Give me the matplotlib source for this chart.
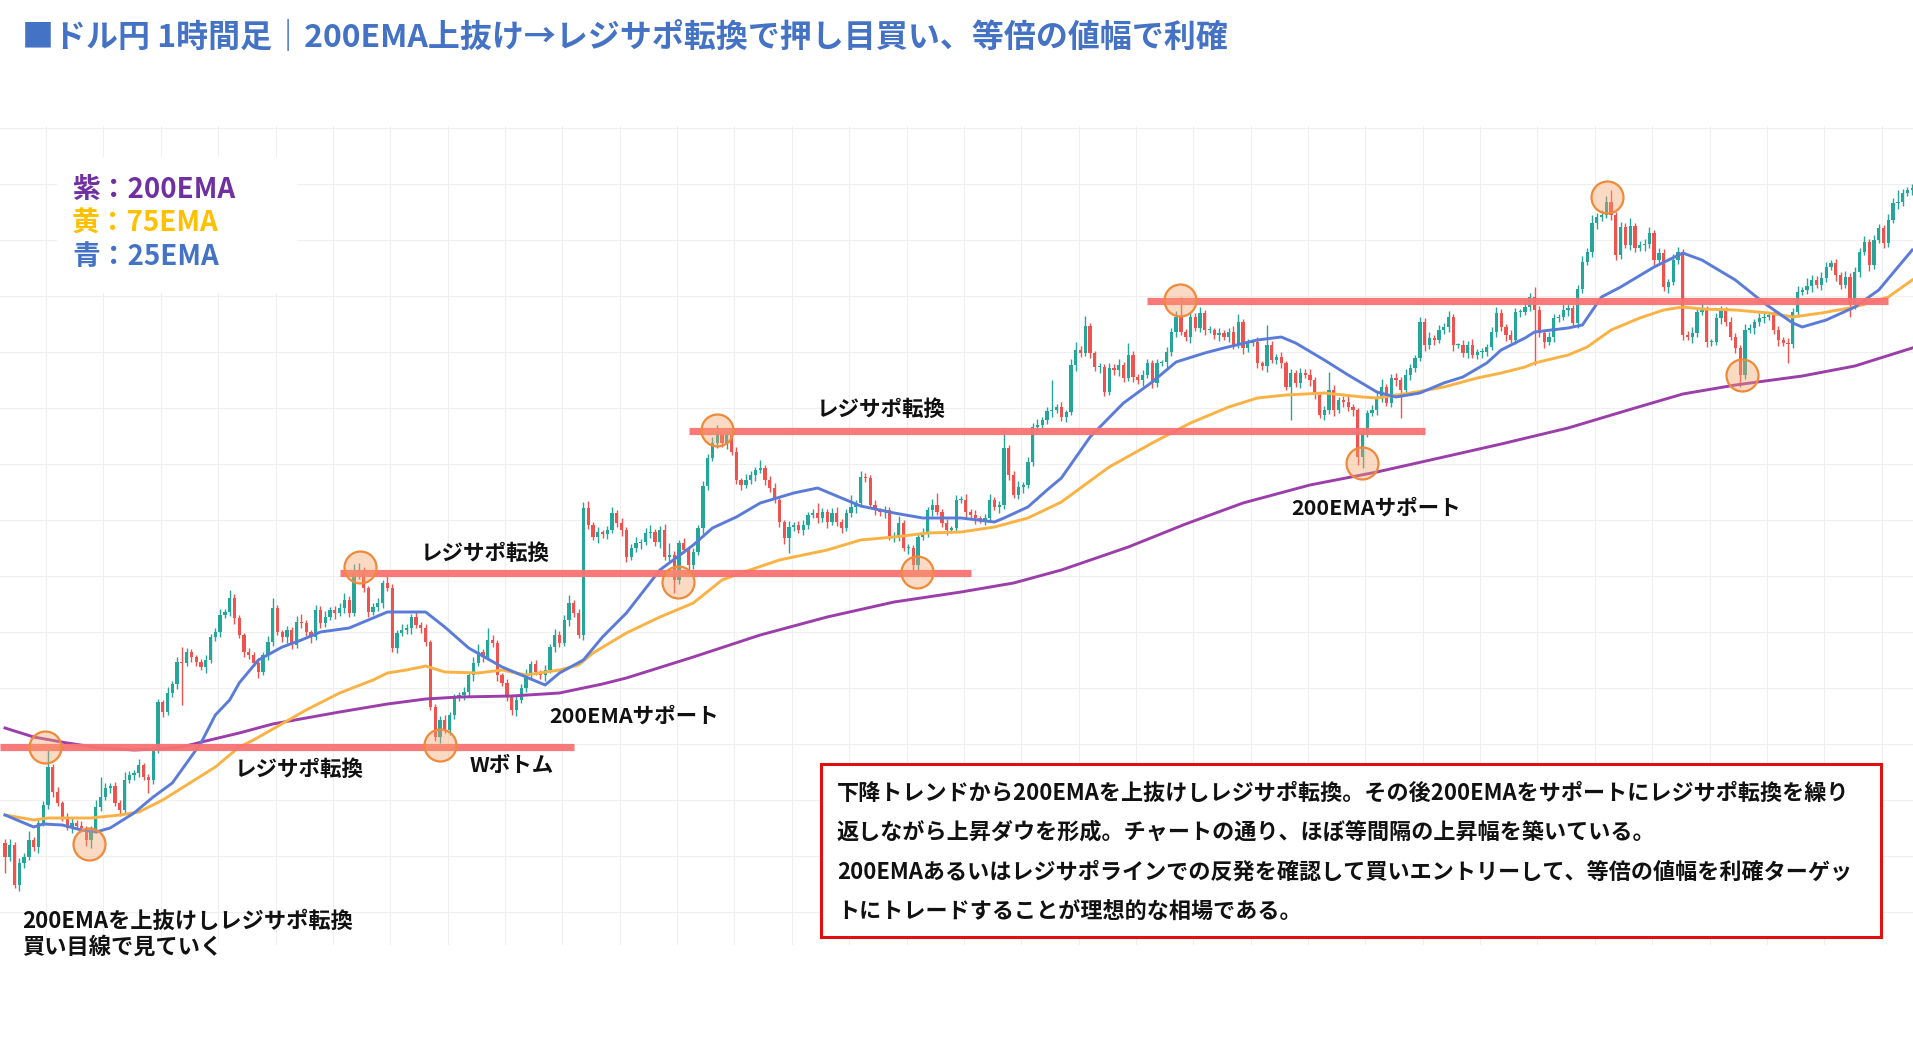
import numpy as np
import matplotlib
matplotlib.use('Agg')
import matplotlib.pyplot as plt
from matplotlib.patches import Rectangle

plt.rcParams['font.family'] = ['Noto Sans CJK JP', 'DejaVu Sans']

W, H = 1913, 1054

# ドル円 1時間足（価格は任意単位、400本）
first_open = 157
close = [
    143, 155, 115, 137, 143, 160, 153, 177, 195, 233,
    208, 197, 183, 172, 177, 174, 172, 160, 170, 193,
    203, 212, 214, 197, 190, 220, 225, 227, 235, 223,
    220, 250, 298, 288, 307, 316, 338, 337, 348, 343,
    338, 333, 340, 363, 368, 385, 388, 402, 382, 365,
    348, 345, 337, 328, 345, 358, 392, 368, 363, 370,
    355, 378, 377, 368, 363, 390, 377, 383, 390, 387,
    392, 400, 387, 427, 430, 412, 388, 393, 397, 417,
    412, 352, 367, 370, 372, 383, 375, 372, 358, 293,
    263, 280, 270, 285, 302, 305, 308, 325, 337, 348,
    343, 360, 357, 325, 317, 303, 290, 300, 312, 325,
    336, 328, 325, 330, 353, 365, 357, 380, 397, 387,
    365, 492, 475, 463, 468, 466, 470, 487, 477, 470,
    443, 452, 457, 458, 467, 468, 458, 470, 443, 445,
    420, 457, 450, 435, 448, 472, 514, 542, 557, 568,
    557, 565, 548, 520, 515, 520, 525, 530, 532, 520,
    512, 500, 478, 462, 473, 475, 470, 475, 485, 487,
    482, 488, 478, 487, 478, 472, 487, 493, 497, 523,
    522, 495, 490, 488, 490, 463, 463, 477, 452, 452,
    435, 463, 467, 490, 495, 488, 477, 470, 472, 500,
    500, 488, 485, 482, 480, 482, 500, 493, 495, 552,
    525, 505, 513, 515, 538, 573, 575, 580, 589, 590,
    593, 583, 588, 635, 650, 647, 674, 647, 633, 633,
    608, 632, 630, 635, 622, 645, 623, 620, 625, 637,
    617, 637, 638, 648, 668, 683, 668, 663, 683, 672,
    687, 670, 670, 665, 667, 663, 668, 655, 678, 652,
    657, 658, 637, 634, 655, 640, 643, 637, 613, 627,
    617, 627, 625, 620, 605, 585, 590, 610, 590, 600,
    598, 593, 590, 543, 567, 587, 590, 602, 613, 597,
    622, 620, 610, 625, 632, 642, 678, 655, 662, 660,
    670, 673, 683, 655, 655, 647, 655, 645, 648, 648,
    653, 668, 687, 673, 665, 660, 688, 688, 693, 703,
    690, 667, 658, 663, 682, 683, 690, 692, 677, 711,
    738, 748, 777, 783, 785, 798, 785, 745, 773, 755,
    774, 752, 755, 756, 767, 740, 747, 713, 718, 740,
    748, 665, 663, 667, 688, 690, 658, 658, 682, 690,
    678, 663, 652, 625, 670, 672, 678, 682, 683, 685,
    670, 660, 657, 656, 688, 708, 710, 714, 720, 715,
    722, 733, 737, 725, 715, 723, 695, 728, 748, 758,
    735, 760, 772, 757, 780, 797, 798, 807, 810, 812,
]

# ヒゲの長さ（実体から上・下）
upper_wick = [
    4, 6, 3, 5, 4, 9, 3, 5, 4, 20,
    3, 5, 2, 4, 6, 3, 5, 2, 4, 7,
    20, 5, 3, 4, 3, 8, 4, 3, 6, 2,
    3, 4, 3, 2, 6, 3, 5, 15, 4, 3,
    2, 3, 5, 3, 4, 6, 3, 8, 4, 3,
    2, 4, 3, 5, 3, 6, 10, 3, 2, 4,
    3, 6, 8, 3, 2, 5, 4, 6, 3, 4,
    5, 7, 4, 9, 7, 3, 2, 4, 5, 3,
    8, 4, 3, 6, 4, 3, 5, 3, 4, 2,
    3, 4, 5, 3, 4, 3, 5, 3, 6, 8,
    3, 12, 5, 3, 2, 4, 3, 5, 4, 6,
    3, 4, 2, 5, 3, 6, 4, 5, 8, 3,
    4, 6, 7, 3, 5, 2, 4, 6, 3, 5,
    3, 4, 6, 3, 5, 7, 3, 4, 6, 12,
    4, 3, 5, 2, 4, 3, 5, 4, 6, 7,
    3, 4, 3, 5, 2, 6, 4, 3, 8, 3,
    4, 5, 3, 2, 6, 3, 4, 5, 3, 4,
    10, 4, 3, 5, 6, 3, 4, 12, 3, 6,
    4, 3, 5, 2, 4, 3, 5, 7, 3, 4,
    3, 4, 5, 3, 6, 12, 3, 4, 2, 5,
    4, 6, 3, 5, 2, 4, 6, 3, 4, 18,
    3, 4, 6, 3, 5, 4, 6, 3, 4, 30,
    3, 5, 2, 6, 8, 4, 10, 3, 2, 4,
    3, 5, 4, 6, 3, 12, 4, 3, 5, 4,
    3, 4, 2, 5, 4, 6, 20, 3, 5, 4,
    6, 3, 4, 2, 5, 3, 4, 6, 8, 3,
    4, 3, 5, 2, 20, 4, 3, 5, 2, 4,
    3, 5, 4, 6, 3, 2, 4, 18, 5, 3,
    4, 6, 3, 2, 4, 3, 5, 6, 8, 3,
    4, 5, 3, 6, 4, 3, 5, 4, 6, 3,
    5, 4, 6, 3, 2, 5, 4, 6, 3, 4,
    3, 5, 6, 4, 3, 5, 4, 3, 6, 4,
    10, 4, 3, 5, 4, 3, 6, 5, 3, 4,
    6, 4, 8, 4, 5, 6, 12, 3, 5, 4,
    8, 3, 4, 5, 6, 3, 5, 4, 3, 6,
    5, 3, 4, 6, 3, 8, 4, 3, 5, 4,
    3, 5, 4, 3, 6, 4, 3, 5, 4, 3,
    6, 4, 3, 5, 4, 6, 3, 8, 5, 4,
    6, 5, 3, 4, 3, 6, 4, 5, 4, 6,
    3, 5, 4, 3, 6, 5, 12, 4, 3, 4,
]
lower_wick = [
    16, 4, 3, 6, 5, 3, 4, 6, 3, 4,
    5, 3, 4, 2, 5, 3, 4, 6, 8, 3,
    4, 3, 5, 3, 6, 4, 3, 5, 4, 3,
    13, 4, 3, 5, 3, 4, 5, 42, 3, 5,
    4, 3, 6, 3, 4, 5, 3, 4, 6, 3,
    5, 4, 3, 6, 3, 5, 4, 3, 5, 6,
    4, 3, 5, 4, 6, 3, 5, 4, 3, 6,
    3, 5, 4, 3, 6, 4, 5, 3, 4, 5,
    3, 4, 5, 3, 4, 6, 3, 5, 4, 3,
    4, 6, 3, 5, 4, 3, 5, 4, 6, 3,
    5, 3, 4, 6, 3, 4, 5, 6, 3, 4,
    5, 3, 4, 6, 3, 5, 4, 3, 6, 4,
    3, 5, 4, 3, 6, 4, 5, 3, 4, 6,
    5, 3, 4, 6, 3, 5, 4, 6, 3, 4,
    13, 4, 3, 5, 4, 3, 6, 4, 3, 5,
    4, 6, 3, 4, 5, 3, 4, 6, 3, 5,
    4, 3, 5, 6, 15, 4, 3, 5, 4, 3,
    5, 4, 6, 3, 4, 5, 3, 4, 6, 3,
    4, 3, 5, 4, 6, 3, 5, 4, 3, 6,
    7, 5, 3, 4, 6, 3, 4, 5, 3, 4,
    3, 5, 4, 6, 3, 5, 4, 3, 6, 4,
    5, 3, 4, 6, 3, 4, 5, 3, 4, 6,
    3, 4, 5, 3, 6, 4, 3, 5, 4, 6,
    4, 3, 5, 6, 4, 3, 5, 4, 6, 3,
    5, 4, 3, 6, 4, 5, 3, 4, 6, 3,
    4, 5, 3, 4, 6, 3, 5, 4, 3, 6,
    4, 3, 5, 4, 6, 3, 4, 5, 3, 33,
    4, 5, 3, 6, 4, 3, 5, 4, 6, 3,
    5, 4, 6, 8, 11, 4, 3, 5, 4, 3,
    4, 6, 28, 3, 5, 4, 3, 6, 4, 5,
    3, 4, 5, 6, 3, 4, 5, 3, 4, 6,
    4, 3, 5, 4, 6, 3, 4, 5, 3, 4,
    55, 4, 6, 3, 5, 4, 3, 6, 4, 5,
    4, 3, 5, 6, 4, 3, 5, 5, 4, 3,
    5, 4, 3, 6, 4, 5, 3, 4, 6, 3,
    4, 5, 3, 6, 4, 3, 5, 4, 3, 6,
    4, 3, 5, 12, 4, 3, 6, 4, 5, 3,
    4, 6, 3, 19, 4, 5, 3, 4, 6, 3,
    5, 4, 3, 6, 4, 3, 12, 4, 5, 3,
    6, 4, 3, 5, 4, 3, 6, 4, 3, 5,
]

# 移動平均線（チャートから読み取った値）
ema25_x = [0, 6, 8, 12, 16, 19, 22, 27, 31, 35, 38, 41, 44, 47, 49, 53, 58, 62, 66, 72,
           76, 80, 84, 88, 92, 97, 104, 109, 113, 116, 121, 125, 130, 137, 144, 148, 153,
           158, 165, 170, 176, 179, 186, 192, 200, 207, 209, 214, 218, 221, 227, 234, 240,
           245, 251, 255, 262, 267, 270, 276, 281, 287, 291, 296, 301, 305, 310, 313, 318,
           320, 327, 330, 334, 338, 345, 351, 355, 362, 368, 374, 376, 381, 387, 392, 399]
ema25_y = [185, 173, 176, 175, 170, 168, 172, 187, 203, 217, 237, 257, 285, 300, 317, 340,
           353, 360, 368, 372, 380, 388, 388, 388, 373, 352, 333, 323, 315, 327, 340, 363,
           387, 430, 455, 472, 483, 497, 507, 512, 500, 494, 487, 482, 482, 478, 482, 493,
           510, 522, 563, 597, 618, 638, 647, 652, 660, 663, 657, 640, 625, 608, 603, 607,
           617, 623, 637, 650, 662, 668, 672, 675, 703, 713, 733, 747, 740, 720, 697, 677,
           673, 680, 693, 710, 750]
ema75_x = [0, 6, 9, 18, 24, 28, 33, 38, 44, 49, 52, 63, 70, 77, 80, 84, 88, 92, 99, 104,
           109, 116, 120, 123, 130, 137, 144, 150, 154, 162, 172, 179, 186, 193, 200, 207,
           214, 221, 231, 240, 248, 256, 262, 268, 276, 284, 287, 294, 301, 308, 313, 318,
           320, 327, 331, 336, 342, 347, 351, 355, 362, 369, 374, 380, 387, 394, 399]
ema75_y = [185, 180, 182, 182, 185, 188, 200, 215, 233, 253, 260, 290, 307, 320, 327, 330,
           334, 328, 327, 330, 325, 330, 335, 347, 367, 383, 397, 420, 427, 440, 450, 460,
           463, 467, 468, 473, 482, 498, 533, 557, 577, 593, 602, 605, 607, 603, 602, 607,
           613, 622, 627, 633, 637, 645, 653, 670, 682, 690, 693, 691, 690, 687, 683, 687,
           693, 703, 720]
ema200_x = [0, 6, 13, 20, 27, 32, 37, 42, 49, 56, 70, 80, 88, 95, 106, 116, 125, 130, 144,
            158, 172, 186, 200, 211, 221, 235, 247, 259, 273, 287, 301, 313, 327, 341, 351,
            362, 376, 387, 399]
ema200_y = [272, 263, 257, 252, 250, 251, 253, 259, 267, 276, 288, 296, 301, 303, 304, 307,
            316, 322, 343, 365, 383, 398, 408, 417, 430, 453, 476, 497, 515, 528, 543, 556,
            572, 592, 606, 615, 624, 634, 652]

# レジサポライン（水準、開始足、終了足）
line_levels = [253, 427, 569, 699]
line_start = [-1.1, 70, 143, 239]
line_end = [119, 202, 297, 394]

# 注目ポイント（足番号、価格）
mark_x = [8.4, 17.6, 74.3, 91.0, 140.8, 149.0, 190.8, 245.8, 283.9, 335.1, 363.4]
mark_y = [253, 156, 433, 255, 418, 570, 428, 700, 537, 803, 625]

n = min(len(close), len(upper_wick), len(lower_wick))
c = np.array(close[:n], dtype=float)
o = np.concatenate([[first_open], c[:-1]])
hi = np.maximum(o, c) + np.array(upper_wick[:n])
lo = np.minimum(o, c) - np.array(lower_wick[:n])
idx = np.arange(n)
up = c >= o
colors = np.where(up, '#26a69a', '#ef5350')

fig = plt.figure(figsize=(W / 100, H / 100), dpi=100)
fig.patch.set_facecolor('white')

step = 4.78
top_px, bot_px = 126, 945
ax = fig.add_axes([0, 1 - bot_px / H, 1, (bot_px - top_px) / H])
ax.set_xlim((0 - 5) / step, (W - 5) / step)
ax.set_ylim(1000 - bot_px, 1000 - top_px)
ax.set_xticks(np.arange(8.6, 400, 12))
ax.set_yticks(np.arange(88, 875, 56))
ax.set_axisbelow(True)
ax.grid(color='#efefef', lw=0.8)
ax.tick_params(length=0, labelbottom=False, labelleft=False)
for s in ax.spines.values():
    s.set_visible(False)

# 凡例の白い背景
ax.add_patch(Rectangle((57 / W, 1 - 293 / H), 240 / W, 136 / H, transform=fig.transFigure,
                       facecolor='white', edgecolor='none', zorder=1))

# ローソク足
ax.vlines(idx, lo, hi, colors=colors, lw=1.0, zorder=2.5)
ax.bar(idx, np.maximum(np.abs(c - o), 1.0), bottom=np.minimum(o, c), width=0.68,
       color=colors, zorder=3)

# EMA
ax.plot(ema200_x, ema200_y, color='#9b3ea9', lw=2.1, zorder=4, solid_joinstyle='round')
ax.plot(ema75_x, ema75_y, color='#fbb244', lw=2.1, zorder=4, solid_joinstyle='round')
ax.plot(ema25_x, ema25_y, color='#5a7bd8', lw=2.1, zorder=4, solid_joinstyle='round')

# レジサポライン
ax.hlines(line_levels, line_start, line_end, color='#f87272', lw=5.2, alpha=0.95, zorder=5)

# 丸印
ax.scatter(mark_x, mark_y, s=530, facecolor=(0.97, 0.64, 0.42, 0.4),
           edgecolor='#ef8a3a', linewidth=1.6, zorder=6)


def fx(x):
    return x / W


def fy(y):
    return 1 - y / H


fig.text(fx(22), fy(37), '■ドル円 1時間足｜200EMA上抜け→レジサポ転換で押し目買い、等倍の値幅で利確',
         fontsize=23, fontweight='bold', color='#4472c4', va='center')

legend_items = [('紫：200EMA', '#7030a0', 190), ('黄：75EMA', '#ffc000', 224),
                ('青：25EMA', '#4472c4', 257)]
for txt, col, yy in legend_items:
    fig.text(fx(72), fy(yy), txt, fontsize=20, fontweight='bold', color=col, va='center')

labels = [('レジサポ転換', 421, 553, 15.5), ('レジサポ転換', 817, 409, 15.5),
          ('200EMAサポート', 1291, 508, 15.5), ('200EMAサポート', 549, 716, 15.5),
          ('レジサポ転換', 235, 769, 15.5), ('Wボトム', 470, 765, 15.5),
          ('200EMAを上抜けしレジサポ転換', 22, 921, 16), ('買い目線で見ていく', 22, 947, 16)]
for txt, xx, yy, fs in labels:
    fig.text(fx(xx), fy(yy), txt, fontsize=fs, fontweight='bold', color='#111111', va='center')

# 解説ボックス
fig.add_artist(Rectangle((fx(821), fy(937)), (1881 - 821) / W, (937 - 764) / H,
                         transform=fig.transFigure, facecolor='white', edgecolor='#e01010',
                         lw=2.2, zorder=7))
box_lines = [
    '下降トレンドから200EMAを上抜けしレジサポ転換。その後200EMAをサポートにレジサポ転換を繰り',
    '返しながら上昇ダウを形成。チャートの通り、ほぼ等間隔の上昇幅を築いている。',
    '200EMAあるいはレジサポラインでの反発を確認して買いエントリーして、等倍の値幅を利確ターゲッ',
    'トにトレードすることが理想的な相場である。',
]
box_y = [793, 832, 872, 911]
for k, ln in enumerate(box_lines):
    fig.text(fx(837), fy(box_y[k]), ln, fontsize=15.9, fontweight='bold',
             color='#111111', va='center', zorder=8)

fig.savefig('out.png', dpi=100, facecolor='white')
